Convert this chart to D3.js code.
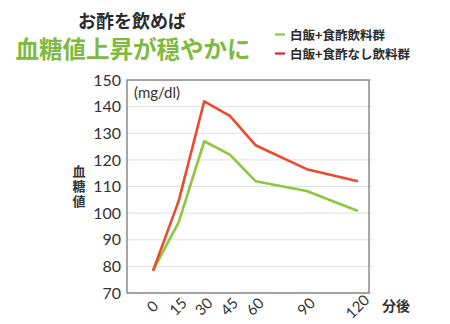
<!DOCTYPE html>
<html>
<head>
<meta charset="utf-8">
<script src="https://cdn.jsdelivr.net/npm/d3@7"></script>
<style>
  html, body { margin: 0; padding: 0; background: #fff; }
  svg { display: block; }
</style>
</head>
<body>
<script>
// Minutes after the meal
const minutes = [0, 15, 30, 45, 60, 90, 120];
// Blood glucose (mg/dl): rice + vinegar drink
const vinegarGroup = [78.5, 96.5, 127, 122, 112, 108.3, 100.8];
// Blood glucose (mg/dl): rice + drink without vinegar
const noVinegarGroup = [78.3, 104.5, 142, 136.5, 125.5, 116.5, 112];
const yTicks = [70, 80, 90, 100, 110, 120, 130, 140, 150];
const seriesNames = ["白飯+食酢飲料群", "白飯+食酢なし飲料群"];
const seriesColors = ["#8dc63f", "#ea4b2c"];

const W = 450, H = 324;
const svg = d3.select("body").append("svg").attr("width", W).attr("height", H);

const jp = "'Noto Sans CJK JP', 'Noto Sans', sans-serif";
const num = "'Lato', 'Open Sans', sans-serif";

const frame = { left: 127, right: 369, top: 80, bottom: 293 };
const x = d3.scaleLinear().domain([0, 120]).range([153, 358]);
const y = d3.scaleLinear().domain([70, 150]).range([frame.bottom, frame.top]);

// Horizontal gridlines
svg.append("g")
  .selectAll("line")
  .data(yTicks)
  .join("line")
  .attr("x1", frame.left).attr("x2", frame.right + 4)
  .attr("y1", d => y(d)).attr("y2", d => y(d))
  .attr("stroke", "#e0e0e0").attr("stroke-width", 1);

// Plot frame
svg.append("rect")
  .attr("x", frame.left).attr("y", frame.top)
  .attr("width", frame.right - frame.left).attr("height", frame.bottom - frame.top)
  .attr("fill", "none").attr("stroke", "#8a8a8a").attr("stroke-width", 1.5);

// Y tick labels
const yAxis = d3.axisLeft(y).tickValues(yTicks).tickSize(0).tickPadding(6);
const gy = svg.append("g").attr("transform", `translate(${frame.left},0)`).call(yAxis);
gy.select(".domain").remove();
gy.selectAll("text")
  .attr("font-family", num).attr("font-size", 16).attr("fill", "#333");

// X tick labels, rotated
svg.append("g")
  .selectAll("text")
  .data(minutes)
  .join("text")
  .attr("transform", d => `translate(${x(d) - 1},306) rotate(-45)`)
  .attr("text-anchor", "middle")
  .attr("dominant-baseline", "central")
  .attr("font-family", num).attr("font-size", 15).attr("fill", "#333")
  .text(d => d);

// Lines
const line = d3.line().x((d, i) => x(minutes[i])).y(d => y(d));
[vinegarGroup, noVinegarGroup].forEach((vals, k) => {
  svg.append("path")
    .datum(vals)
    .attr("d", line)
    .attr("fill", "none")
    .attr("stroke", seriesColors[k])
    .attr("stroke-width", 2.6)
    .attr("stroke-linejoin", "round");
});

// Unit label
svg.append("text")
  .attr("x", 134).attr("y", 98)
  .attr("font-family", num).attr("font-size", 15).attr("fill", "#333")
  .text("(mg/dl)");

// Y axis title, written vertically
svg.append("text")
  .attr("x", 79).attr("y", 165)
  .style("writing-mode", "vertical-rl")
  .attr("letter-spacing", 2)
  .attr("font-family", jp).attr("font-weight", 700).attr("font-size", 13)
  .attr("fill", "#333").text("血糖値");

// X axis unit
svg.append("text")
  .attr("x", 382).attr("y", 305)
  .attr("dominant-baseline", "central")
  .attr("font-family", jp).attr("font-weight", 700).attr("font-size", 14)
  .attr("fill", "#333").text("分後");

// Titles
svg.append("text")
  .attr("x", 132).attr("y", 20)
  .attr("text-anchor", "middle").attr("dominant-baseline", "central")
  .attr("font-family", jp).attr("font-weight", 700).attr("font-size", 18)
  .attr("fill", "#2b2b2b").text("お酢を飲めば");
svg.append("text")
  .attr("x", 133).attr("y", 48)
  .attr("text-anchor", "middle").attr("dominant-baseline", "central")
  .attr("font-family", jp).attr("font-weight", 700).attr("font-size", 23.5)
  .attr("fill", "#7dba3f").text("血糖値上昇が穏やかに");

// Legend
const legend = svg.append("g");
seriesNames.forEach((name, i) => {
  const ly = 34.5 + i * 19;
  legend.append("line")
    .attr("x1", 275).attr("x2", 285).attr("y1", ly).attr("y2", ly)
    .attr("stroke", i === 0 ? seriesColors[0] : "#e3221f").attr("stroke-width", 2.2);
  legend.append("text")
    .attr("x", 290).attr("y", ly)
    .attr("dominant-baseline", "central")
    .attr("font-family", jp).attr("font-weight", 700).attr("font-size", 12.5)
    .attr("fill", "#2b2b2b").text(name);
});
</script>
</body>
</html>
